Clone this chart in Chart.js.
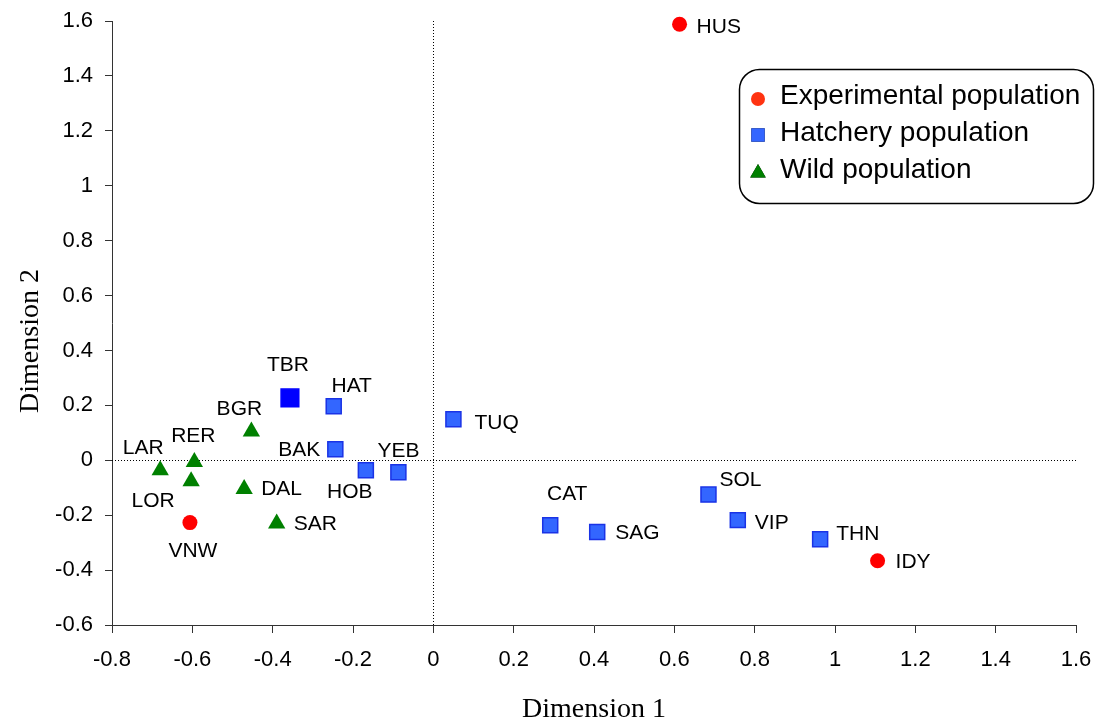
<!DOCTYPE html>
<html>
<head>
<meta charset="utf-8">
<script src="https://cdn.jsdelivr.net/npm/chart.js@4/dist/chart.umd.min.js"></script>
<style>
  html, body { margin: 0; padding: 0; background: #fff; }
  #wrap { width: 1107px; height: 724px; position: relative; }
</style>
</head>
<body>
<div id="wrap"><canvas id="c" width="1107" height="724"></canvas></div>
<script>
// ---- data ----
const seriesNames = ['Experimental population', 'Hatchery population', 'Wild population'];

const expNames = ['HUS', 'VNW', 'IDY'];
const expX = [0.613, -0.606, 1.106];
const expY = [1.588, -0.227, -0.366];

const hatNames = ['TBR', 'HAT', 'BAK', 'HOB', 'YEB', 'TUQ', 'CAT', 'SAG', 'SOL', 'VIP', 'THN'];
const hatX = [-0.357, -0.248, -0.244, -0.168, -0.087, 0.050, 0.291, 0.408, 0.685, 0.758, 0.963];
const hatY = [0.227, 0.197, 0.040, -0.036, -0.044, 0.149, -0.237, -0.261, -0.125, -0.218, -0.288];

const wildNames = ['BGR', 'LAR', 'RER', 'LOR', 'DAL', 'SAR'];
const wildX = [-0.453, -0.680, -0.595, -0.603, -0.471, -0.390];
const wildY = [0.105, -0.036, -0.006, -0.076, -0.105, -0.230];

const xTickMin = -0.8, xTickMax = 1.6, yTickMin = -0.6, yTickMax = 1.6, tickStep = 0.2;
const xTitle = 'Dimension 1';
const yTitle = 'Dimension 2';

// ---- label placement (styling, px offsets from marker) ----
const labelPos = {
  HUS: [17, 1, 'left'], VNW: [3, 27, 'center'], IDY: [18, 0, 'left'],
  TBR: [-2, -35, 'center'], HAT: [18, -22, 'center'], BAK: [-36, -1, 'center'],
  HOB: [-16, 20, 'center'], YEB: [0, -23, 'center'], TUQ: [21, 2, 'left'],
  CAT: [17, -33, 'center'], SAG: [18, 0, 'left'], SOL: [11, -16, 'left'],
  VIP: [17, 1, 'left'], THN: [16, -7, 'left'],
  BGR: [-12, -24, 'center'], LAR: [-17, -24, 'center'], RER: [-1, -27, 'center'],
  LOR: [-38, 18, 'center'], DAL: [17, -2, 'left'], SAR: [17, -1, 'left']
};

const SANS = '"Liberation Sans", Arial, sans-serif';
const SERIF = '"Liberation Serif", "Times New Roman", serif';

function pts(xs, ys) { return xs.map((x, i) => ({ x: x, y: ys[i] })); }

const names = [expNames, hatNames, wildNames];

const pointLabels = {
  id: 'pointLabels',
  beforeDatasetsDraw(chart) {
    const { ctx, chartArea: a, scales: { x, y } } = chart;
    ctx.save();
    ctx.strokeStyle = '#000';
    ctx.lineWidth = 1;
    ctx.setLineDash([1, 2]);
    const x0 = Math.round(x.getPixelForValue(0)) + 0.5;
    const y0 = Math.round(y.getPixelForValue(0)) + 0.5;
    ctx.beginPath();
    ctx.moveTo(x0, a.top); ctx.lineTo(x0, a.bottom);
    ctx.moveTo(a.left, y0); ctx.lineTo(a.right, y0);
    ctx.stroke();
    ctx.restore();
  },
  afterDatasetsDraw(chart) {
    const { ctx } = chart;
    ctx.save();
    ctx.fillStyle = '#000';
    ctx.font = '21px ' + SANS;
    ctx.textBaseline = 'alphabetic';
    chart.data.datasets.forEach((ds, di) => {
      const meta = chart.getDatasetMeta(di);
      meta.data.forEach((el, i) => {
        const nm = names[di][i];
        const p = labelPos[nm] || [12, 0, 'left'];
        ctx.textAlign = p[2];
        ctx.fillText(nm, el.x + p[0], el.y + p[1] + 0.36 * 21);
      });
    });
    ctx.restore();
  },
  afterDraw(chart) {
    const { ctx, chartArea: a } = chart;
    ctx.save();
    // axis titles
    ctx.fillStyle = '#000';
    ctx.font = '28px ' + SERIF;
    ctx.textAlign = 'center';
    ctx.textBaseline = 'alphabetic';
    ctx.fillText(xTitle, (a.left + a.right) / 2, 717);
    ctx.save();
    ctx.translate(38, 341);
    ctx.rotate(-Math.PI / 2);
    ctx.fillText(yTitle, 0, 0);
    ctx.restore();

    // legend box
    const bx = 739.5, by = 69.5, bw = 354, bh = 134, r = 20;
    ctx.beginPath();
    ctx.moveTo(bx + r, by);
    ctx.lineTo(bx + bw - r, by);
    ctx.arcTo(bx + bw, by, bx + bw, by + r, r);
    ctx.lineTo(bx + bw, by + bh - r);
    ctx.arcTo(bx + bw, by + bh, bx + bw - r, by + bh, r);
    ctx.lineTo(bx + r, by + bh);
    ctx.arcTo(bx, by + bh, bx, by + bh - r, r);
    ctx.lineTo(bx, by + r);
    ctx.arcTo(bx, by, bx + r, by, r);
    ctx.closePath();
    ctx.fillStyle = '#fff';
    ctx.fill();
    ctx.strokeStyle = '#000';
    ctx.lineWidth = 1.5;
    ctx.stroke();

    const markerY = [99, 135, 173];
    const textY = [104, 141, 178];
    const mColors = ['#FF3311', '#3366FF', '#008000'];
    const mStyles = ['circle', 'rect', 'triangle'];
    const mRad = [7, 9.5, 9];
    chart.data.datasets.forEach((ds, i) => {
      Chart.helpers.drawPoint(ctx, { pointStyle: mStyles[i], radius: mRad[i], borderWidth: 0, rotation: 0 }, 758, markerY[i]);
      ctx.fillStyle = mColors[i];
      ctx.fill();
      ctx.fillStyle = '#000';
      ctx.font = '28px ' + SANS;
      ctx.textAlign = 'left';
      ctx.fillText(ds.label, 780, textY[i]);
    });
    ctx.restore();
  }
};

Chart.defaults.color = '#000';
Chart.defaults.font.family = SANS;

new Chart(document.getElementById('c'), {
  type: 'scatter',
  data: {
    datasets: [
      {
        label: seriesNames[0],
        data: pts(expX, expY),
        clip: false,
        pointStyle: 'circle',
        pointRadius: 7.5,
        pointHoverRadius: 7.5,
        backgroundColor: '#FF0000',
        borderColor: '#FF0000',
        borderWidth: 0
      },
      {
        label: seriesNames[1],
        data: pts(hatX, hatY),
        clip: false,
        pointStyle: 'rect',
        pointRadius: ctx => hatNames[ctx.dataIndex] === 'TBR' ? 12.5 : 10.6,
        pointHoverRadius: ctx => hatNames[ctx.dataIndex] === 'TBR' ? 12.5 : 10.6,
        backgroundColor: ctx => hatNames[ctx.dataIndex] === 'TBR' ? '#0000FF' : '#3366FF',
        borderColor: ctx => hatNames[ctx.dataIndex] === 'TBR' ? '#0000FF' : '#1A33E6',
        borderWidth: 1.5
      },
      {
        label: seriesNames[2],
        data: pts(wildX, wildY),
        clip: false,
        pointStyle: 'triangle',
        pointRadius: 10,
        pointHoverRadius: 10,
        backgroundColor: '#008000',
        borderColor: '#008000',
        borderWidth: 0
      }
    ]
  },
  options: {
    responsive: false,
    animation: false,
    events: [],
    layout: { padding: { top: 21, right: 31, left: 0, bottom: 0 } },
    plugins: { legend: { display: false }, tooltip: { enabled: false }, title: { display: false } },
    scales: {
      x: {
        type: 'linear',
        min: xTickMin, max: xTickMax,
        afterFit: s => { s.height = 99; s.paddingLeft = 0; s.paddingRight = 0; },
        border: { display: true, color: '#333', width: 1 },
        grid: { drawOnChartArea: false, drawTicks: true, tickLength: 8, tickColor: '#333', color: '#333' },
        ticks: {
          stepSize: tickStep, padding: 14, maxRotation: 0, autoSkip: false,
          font: { size: 22, family: SANS }, color: '#000',
          callback: v => String(Math.round(v * 10) / 10)
        }
      },
      y: {
        type: 'linear',
        min: yTickMin, max: yTickMax,
        afterFit: s => { s.width = 112; s.paddingTop = 0; s.paddingBottom = 0; },
        border: { display: true, color: '#333', width: 1 },
        grid: { drawOnChartArea: false, drawTicks: true, tickLength: 7, tickColor: '#333', color: '#333' },
        ticks: {
          stepSize: tickStep, padding: 12, autoSkip: false,
          font: { size: 22, family: SANS }, color: '#000',
          callback: v => String(Math.round(v * 10) / 10)
        }
      }
    }
  },
  plugins: [pointLabels]
});
</script>
</body>
</html>
